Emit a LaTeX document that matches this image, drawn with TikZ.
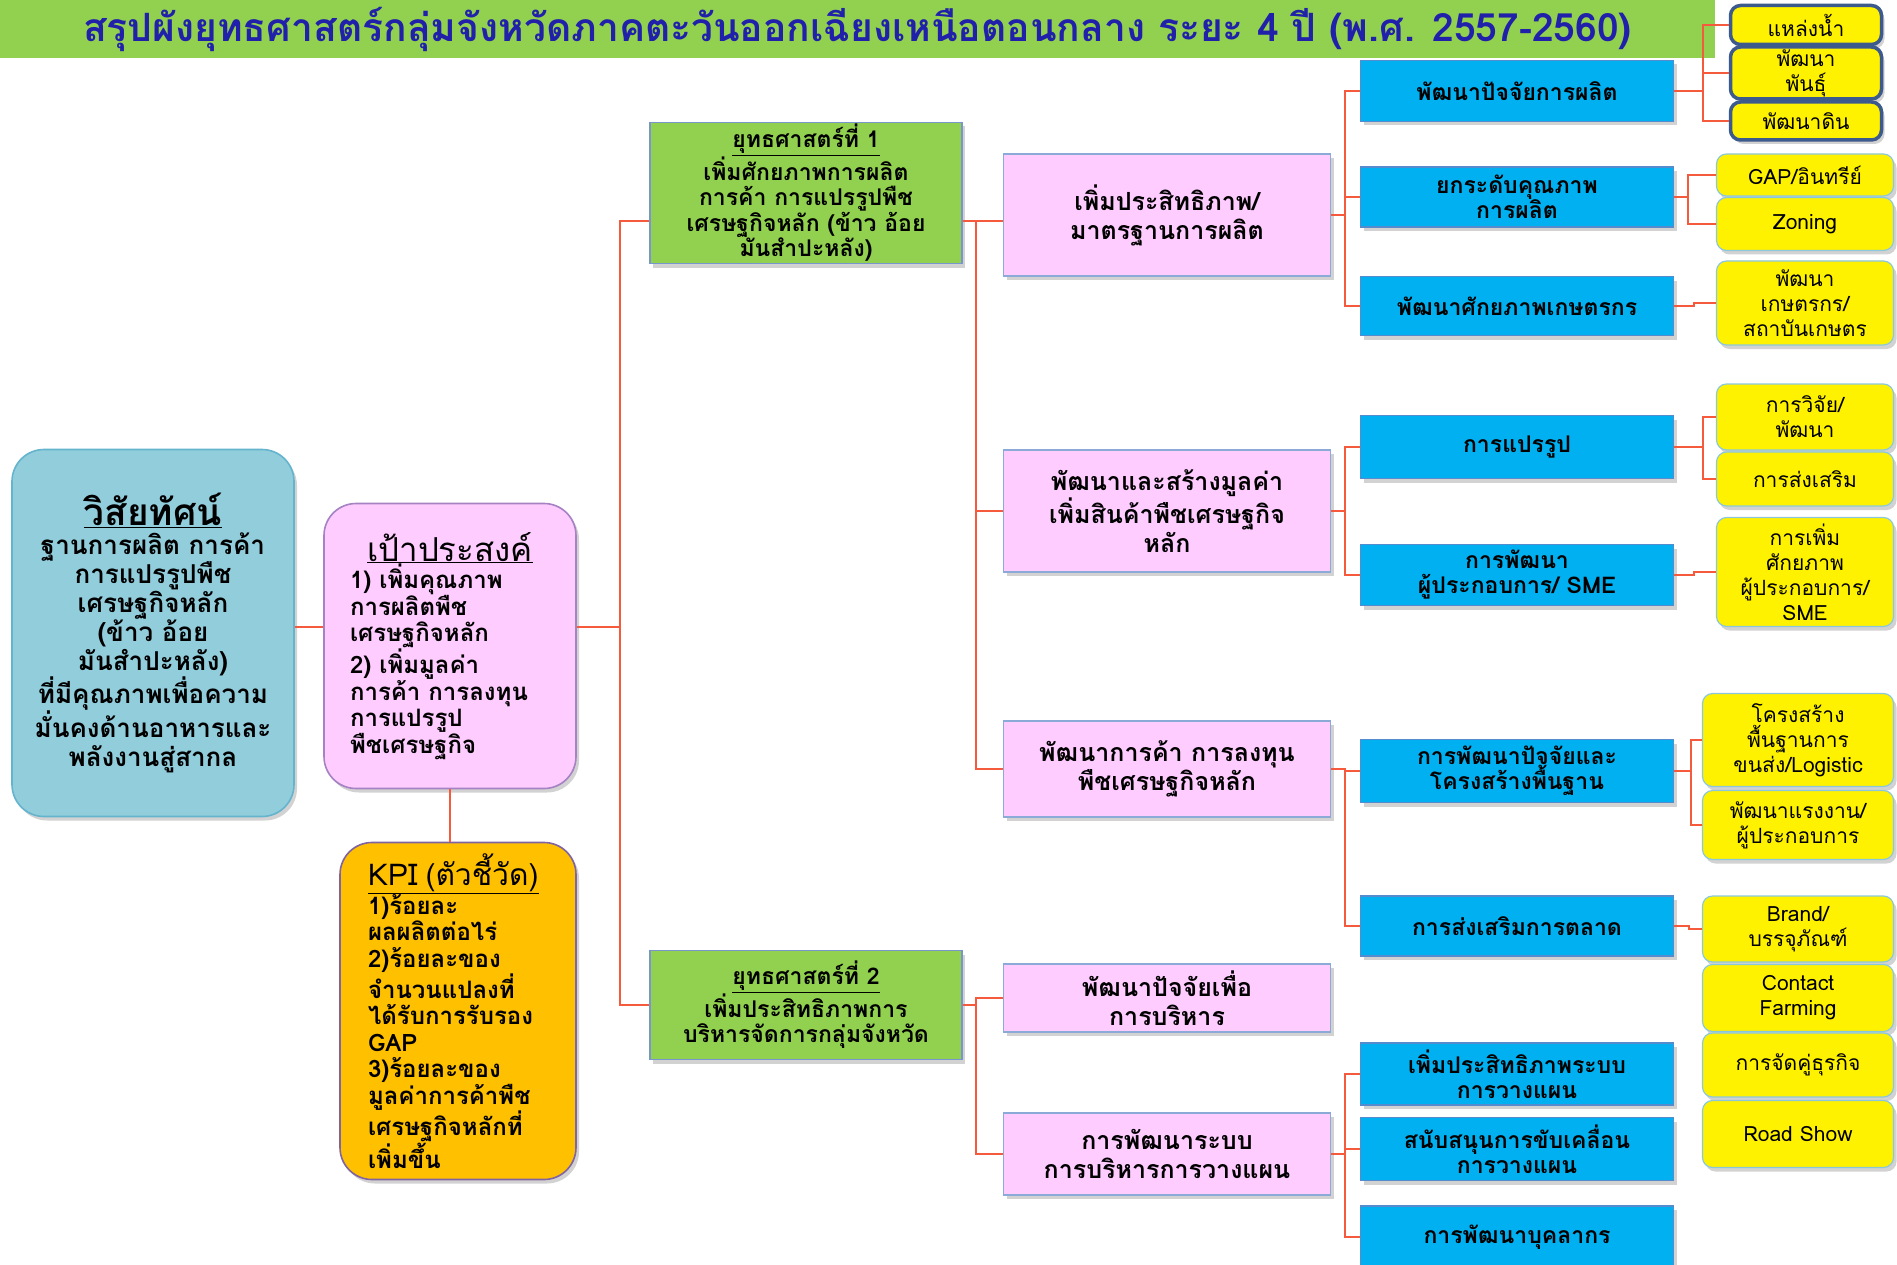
\documentclass[tikz,border=0pt]{standalone}
\usepackage{fontspec}
\setmainfont{Loma}[Script=Thai]
\usetikzlibrary{shadows}

\definecolor{titlegreen}{RGB}{146,208,80}
\definecolor{titleblue}{RGB}{32,32,170}
\definecolor{visionfill}{RGB}{146,205,220}
\definecolor{visionedge}{RGB}{100,180,205}
\definecolor{pinkfill}{RGB}{255,204,255}
\definecolor{pinkedge}{RGB}{140,170,215}
\definecolor{objedge}{RGB}{165,130,195}
\definecolor{kpifill}{RGB}{255,192,0}
\definecolor{kpiedge}{RGB}{128,100,162}
\definecolor{stratgreen}{RGB}{146,208,80}
\definecolor{stratedge}{RGB}{120,150,205}
\definecolor{bluefill}{RGB}{0,176,240}
\definecolor{blueedge}{RGB}{85,140,205}
\definecolor{yellowedge}{RGB}{140,200,220}
\definecolor{darkedge}{RGB}{60,90,140}
\definecolor{linkred}{RGB}{245,90,60}

\tikzset{
  boxshadow/.style={drop shadow={shadow xshift=3pt, shadow yshift=-4pt, opacity=.35}},
  box/.style={draw, line width=1.2pt, align=center, inner sep=2pt, boxshadow},
  bigbox/.style={box, rounded corners=32pt, line width=1.6pt},
  strat/.style={box, fill=stratgreen, draw=stratedge, minimum width=312pt, font=\fontsize{23}{25.5}\selectfont\bfseries},
  goal/.style={box, fill=pinkfill, draw=pinkedge, minimum width=327pt, font=\fontsize{25}{29}\selectfont\bfseries},
  plan/.style={box, fill=bluefill, draw=blueedge, minimum width=313pt, font=\fontsize{23}{25}\selectfont\bfseries},
  task/.style={box, fill=yellow, draw=yellowedge, rounded corners=10pt, minimum width=177pt, font=\fontsize{21}{25}\selectfont},
  taskdark/.style={task, draw=darkedge, line width=3.5pt, minimum width=151pt},
  link/.style={draw=linkred, line width=2pt},
  elbow/.style={to path={(\tikztostart.east) -- ++(#1,0) |- (\tikztotarget.west)}},
  elbow/.default=14
}

\begin{document}
\begin{tikzpicture}[x=1pt, y=-1pt]
    \fill [white] (0,0) rectangle (1897,1265);
    \useasboundingbox (0,0) rectangle (1897,1265);

    % title
    \node (title) [fill=titlegreen, minimum width=1715pt, minimum height=58pt, text=titleblue, font=\fontsize{39}{44}\selectfont\bfseries] at (857.5,29) {สรุปผังยุทธศาสตร์กลุ่มจังหวัดภาคตะวันออกเฉียงเหนือตอนกลาง ระยะ 4 ปี (พ.ศ. 2557-2560)};

    % vision, objective, KPI
    \node (vision) [bigbox, fill=visionfill, draw=visionedge, minimum width=282pt, minimum height=367pt, font=\fontsize{26}{29}\selectfont\bfseries] at (153,633)
        {{\fontsize{37}{40}\selectfont\underline{วิสัยทัศน์}}\\ฐานการผลิต การค้า\\การแปรรูปพืช\\เศรษฐกิจหลัก\\(ข้าว อ้อย\\มันสำปะหลัง)\\ที่มีคุณภาพเพื่อความ\\มั่นคงด้านอาหารและ\\พลังงานสู่สากล};
    \node (obj) [bigbox, fill=pinkfill, draw=objedge, minimum width=252pt, minimum height=285pt, align=left, text width=200pt, font=\fontsize{24}{26.5}\selectfont\bfseries] at (450,646)
        {\makebox[200pt]{\fontsize{33}{36}\selectfont\mdseries\underline{เป้าประสงค์}}\\1) เพิ่มคุณภาพ\\การผลิตพืช\\เศรษฐกิจหลัก\\2) เพิ่มมูลค่า\\การค้า การลงทุน\\การแปรรูป\\พืชเศรษฐกิจ};
    \node (kpi) [bigbox, fill=kpifill, draw=kpiedge, minimum width=236pt, minimum height=337pt, align=left, text width=180pt, font=\fontsize{24}{26.5}\selectfont\bfseries] at (458,1011)
        {{\fontsize{30}{34}\selectfont\mdseries\underline{KPI (ตัวชี้วัด)}}\\1)ร้อยละ\\ผลผลิตต่อไร่\\2)ร้อยละของ\\จำนวนแปลงที่\\ได้รับการรับรอง\\GAP\\3)ร้อยละของ\\มูลค่าการค้าพืช\\เศรษฐกิจหลักที่\\เพิ่มขึ้น};

    % strategies
    \node (s1) [strat, minimum height=135pt] at (806,193) {\underline{ยุทธศาสตร์ที่ 1}\\เพิ่มศักยภาพการผลิต\\การค้า การแปรรูปพืช\\เศรษฐกิจหลัก (ข้าว อ้อย\\มันสำปะหลัง)};
    \node (s2) [strat, minimum height=109pt] at (806,1005) {\underline{ยุทธศาสตร์ที่ 2}\\เพิ่มประสิทธิภาพการ\\บริหารจัดการกลุ่มจังหวัด};

    % goals
    \node (p1) [goal, minimum height=122pt] at (1167,215) {เพิ่มประสิทธิภาพ/\\มาตรฐานการผลิต};
    \node (p2) [goal, minimum height=122pt] at (1167,511) {พัฒนาและสร้างมูลค่า\\เพิ่มสินค้าพืชเศรษฐกิจ\\หลัก};
    \node (p3) [goal, minimum height=96pt] at (1167,769) {พัฒนาการค้า การลงทุน\\พืชเศรษฐกิจหลัก};
    \node (p4) [goal, minimum height=68pt] at (1167,998) {พัฒนาปัจจัยเพื่อ\\การบริหาร};
    \node (p5) [goal, minimum height=82pt] at (1167,1154) {การพัฒนาระบบ\\การบริหารการวางแผน};

    % plans
    \node (b1) [plan, minimum height=61pt] at (1517,91) {พัฒนาปัจจัยการผลิต};
    \node (b2) [plan, minimum height=60pt] at (1517,197) {ยกระดับคุณภาพ\\การผลิต};
    \node (b3) [plan, minimum height=59pt] at (1517,306) {พัฒนาศักยภาพเกษตรกร};
    \node (b4) [plan, minimum height=63pt] at (1517,447) {การแปรรูป};
    \node (b5) [plan, minimum height=61pt] at (1517,575) {การพัฒนา\\ผู้ประกอบการ/ SME};
    \node (b6) [plan, minimum height=63pt] at (1517,771) {การพัฒนาปัจจัยและ\\โครงสร้างพื้นฐาน};
    \node (b7) [plan, minimum height=60pt] at (1517,926) {การส่งเสริมการตลาด};
    \node (b8) [plan, minimum height=62pt] at (1517,1074) {เพิ่มประสิทธิภาพระบบ\\การวางแผน};
    \node (b9) [plan, minimum height=63pt] at (1517,1149) {สนับสนุนการขับเคลื่อน\\การวางแผน};
    \node (b10) [plan, minimum height=62pt] at (1517,1237) {การพัฒนาบุคลากร};

    % tasks
    \node (y1) [taskdark, minimum height=39pt] at (1806,25) {แหล่งน้ำ};
    \node (y2) [taskdark, minimum height=52pt] at (1806,73) {พัฒนา\\พันธุ์};
    \node (y3) [taskdark, minimum height=38pt] at (1806,121) {พัฒนาดิน};
    \node (y4) [task, minimum height=42pt] at (1805,175) {GAP/อินทรีย์};
    \node (y5) [task, minimum height=53pt] at (1805,224) {Zoning};
    \node (y6) [task, minimum height=84pt] at (1805,303) {พัฒนา\\เกษตรกร/\\สถาบันเกษตร};
    \node (y7) [task, minimum height=66pt] at (1805,417) {การวิจัย/\\พัฒนา};
    \node (y8) [task, minimum height=54pt] at (1805,479) {การส่งเสริม};
    \node (y9) [task, minimum height=109pt] at (1805,572) {การเพิ่ม\\ศักยภาพ\\ผู้ประกอบการ/\\SME};
    \node (y10) [task, minimum width=191pt, minimum height=93pt] at (1798,740) {โครงสร้าง\\พื้นฐานการ\\ขนส่ง/Logistic};
    \node (y11) [task, minimum width=191pt, minimum height=69pt] at (1798,825) {พัฒนาแรงงาน/\\ผู้ประกอบการ};
    \node (y12) [task, minimum width=191pt, minimum height=66pt] at (1798,929) {Brand/\\บรรจุภัณฑ์};
    \node (y13) [task, minimum width=191pt, minimum height=67pt] at (1798,998) {Contact\\Farming};
    \node (y14) [task, minimum width=191pt, minimum height=64pt] at (1798,1065) {การจัดคู่ธุรกิจ};
    \node (y15) [task, minimum width=191pt, minimum height=67pt] at (1798,1134) {Road Show};

    % connectors
    \draw [link] ([yshift=6pt]vision.east) -- ([yshift=6pt]vision.east -| obj.west);
    \path (obj.south) [link] edge (obj.south |- kpi.north);
    \draw [link] ([yshift=19pt]obj.east) -- ++(43,0) |- ([yshift=-28pt]s1.west);
    \draw [link] ([yshift=19pt]obj.east) -- ++(43,0) |- (s2.west);
    \draw [link] ([yshift=-28pt]s1.east) -- ++(13,0) |- ([yshift=-6pt]p1.west);
    \draw [link] ([yshift=-28pt]s1.east) -- ++(13,0) |- (p2.west);
    \draw [link] ([yshift=-28pt]s1.east) -- ++(13,0) |- (p3.west);
    \path (s2) [link] edge [elbow=13] (p4) edge [elbow=13] (p5);
    \path (p1) [link] edge [elbow] (b1) edge [elbow] (b2) edge [elbow] (b3);
    \path (p2) [link] edge [elbow] (b4) edge [elbow] (b5);
    \path (p3) [link] edge [elbow] (b6) edge [elbow] (b7);
    \path (p5) [link] edge [elbow] (b8) edge [elbow] (b9) edge [elbow] (b10);
    \path (b1) [link] edge [elbow=29] (y1) edge [elbow=29] (y2) edge [elbow=29] (y3);
    \path (b2) [link] edge [elbow] (y4) edge [elbow] (y5);
    \path (b3) [link] edge [elbow=20] (y6);
    \path (b4) [link] edge [elbow=29] (y7) edge [elbow=29] (y8);
    \path (b5) [link] edge [elbow=20] (y9);
    \path (b6) [link] edge [elbow=17] (y10) edge [elbow=17] (y11);
    \path (b7) [link] edge [elbow=15] (y12);
\end{tikzpicture}
\end{document}
